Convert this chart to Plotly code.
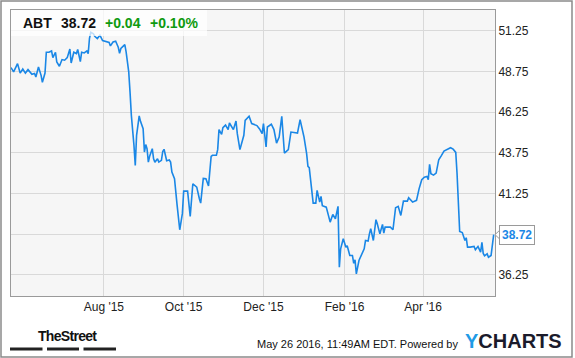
import plotly.graph_objects as go

ticker = "ABT"
last_price = 38.72
change_abs = "+0.04"
change_pct = "+0.10%"
timestamp_text = "May 26 2016, 11:49AM EDT. Powered by"

dates = [
    "2015-05-22", "2015-05-24", "2015-05-27", "2015-05-29", "2015-05-31", "2015-06-02", "2015-06-04",
    "2015-06-07", "2015-06-09", "2015-06-10", "2015-06-12", "2015-06-14", "2015-06-15", "2015-06-17",
    "2015-06-18", "2015-06-20", "2015-06-22", "2015-06-23", "2015-06-25", "2015-06-26", "2015-06-28",
    "2015-06-30", "2015-07-02", "2015-07-04", "2015-07-06", "2015-07-07", "2015-07-09", "2015-07-11",
    "2015-07-12", "2015-07-14", "2015-07-15", "2015-07-17", "2015-07-19", "2015-07-20", "2015-07-21",
    "2015-07-22", "2015-07-24", "2015-07-25", "2015-07-27", "2015-07-29", "2015-07-31", "2015-08-03",
    "2015-08-05", "2015-08-06", "2015-08-08", "2015-08-10", "2015-08-12", "2015-08-13", "2015-08-14",
    "2015-08-16", "2015-08-17", "2015-08-18", "2015-08-20", "2015-08-21", "2015-08-22", "2015-08-24",
    "2015-08-25", "2015-08-26", "2015-08-28", "2015-08-29", "2015-08-31", "2015-09-01", "2015-09-02",
    "2015-09-03", "2015-09-04", "2015-09-05", "2015-09-07", "2015-09-08", "2015-09-09", "2015-09-11",
    "2015-09-12", "2015-09-14", "2015-09-15", "2015-09-16", "2015-09-18", "2015-09-20", "2015-09-21",
    "2015-09-22", "2015-09-24", "2015-09-26", "2015-09-28", "2015-09-30", "2015-10-01", "2015-10-04",
    "2015-10-06", "2015-10-08", "2015-10-11", "2015-10-13", "2015-10-14", "2015-10-16", "2015-10-18",
    "2015-10-20", "2015-10-22", "2015-10-23", "2015-10-26", "2015-10-27", "2015-10-28", "2015-10-30",
    "2015-10-31", "2015-11-02", "2015-11-04", "2015-11-05", "2015-11-08", "2015-11-10", "2015-11-11",
    "2015-11-13", "2015-11-15", "2015-11-16", "2015-11-17", "2015-11-20", "2015-11-22", "2015-11-26",
    "2015-11-28", "2015-11-30", "2015-12-01", "2015-12-03", "2015-12-04", "2015-12-07", "2015-12-09",
    "2015-12-11", "2015-12-13", "2015-12-15", "2015-12-17", "2015-12-20", "2015-12-22", "2015-12-25",
    "2015-12-27", "2015-12-29", "2016-01-01", "2016-01-03", "2016-01-04", "2016-01-05", "2016-01-08",
    "2016-01-10", "2016-01-11", "2016-01-13", "2016-01-14", "2016-01-15", "2016-01-18", "2016-01-21",
    "2016-01-23", "2016-01-25", "2016-01-27", "2016-01-28", "2016-01-29", "2016-01-31", "2016-02-02",
    "2016-02-03", "2016-02-05", "2016-02-07", "2016-02-08", "2016-02-09", "2016-02-10", "2016-02-12",
    "2016-02-14", "2016-02-16", "2016-02-17", "2016-02-19", "2016-02-20", "2016-02-21", "2016-02-23",
    "2016-02-25", "2016-02-26", "2016-02-28", "2016-03-01", "2016-03-02", "2016-03-03", "2016-03-07",
    "2016-03-09", "2016-03-11", "2016-03-13", "2016-03-15", "2016-03-17", "2016-03-20", "2016-03-21",
    "2016-03-23", "2016-03-24", "2016-03-27", "2016-03-28", "2016-03-29", "2016-03-31", "2016-04-02",
    "2016-04-04", "2016-04-05", "2016-04-06", "2016-04-07", "2016-04-09", "2016-04-11", "2016-04-13",
    "2016-04-14", "2016-04-15", "2016-04-17", "2016-04-18", "2016-04-20", "2016-04-22", "2016-04-24",
    "2016-04-26", "2016-04-27", "2016-04-28", "2016-04-29", "2016-05-01", "2016-05-03", "2016-05-04",
    "2016-05-05", "2016-05-07", "2016-05-10", "2016-05-11", "2016-05-13", "2016-05-15", "2016-05-16",
    "2016-05-17", "2016-05-18", "2016-05-20", "2016-05-21", "2016-05-23", "2016-05-25",
]

prices = [
    49.00, 48.73, 49.24, 48.66, 48.91, 48.66, 48.87,
    48.58, 48.63, 48.42, 49.03, 48.52, 48.09, 48.66,
    49.94, 49.94, 50.02, 49.61, 49.94, 49.34, 49.08,
    49.49, 49.45, 49.61, 50.14, 49.28, 49.94, 49.86,
    50.11, 49.37, 49.94, 49.90, 50.02, 49.86, 50.80,
    51.17, 51.08, 50.92, 50.78, 50.99, 50.66, 50.57,
    50.54, 50.33, 50.57, 50.62, 50.25, 49.88, 50.17,
    50.33, 50.41, 49.96, 48.73, 47.49, 46.06, 44.21,
    42.98, 44.83, 46.02, 45.69, 45.24, 43.80, 44.26,
    44.01, 43.18, 43.55, 44.01, 43.39, 43.18, 43.39,
    43.18, 43.29, 43.84, 43.97, 43.27, 43.31, 43.18,
    42.57, 42.16, 40.52, 39.02, 40.01, 41.40, 41.40,
    39.84, 41.85, 41.64, 40.93, 40.66, 42.18, 42.16,
    41.71, 43.53, 43.60, 43.60, 43.95, 45.18, 44.89,
    45.30, 45.46, 45.18, 45.59, 45.18, 45.71, 44.93,
    43.95, 44.52, 44.83, 45.75, 46.00, 45.55, 45.43,
    45.22, 44.93, 45.55, 44.11, 45.34, 45.51, 45.18,
    44.35, 44.72, 46.00, 43.74, 43.95, 45.03, 45.01,
    44.97, 45.79, 44.72, 43.70, 42.92, 42.84, 40.66,
    40.66, 41.44, 40.72, 41.07, 40.50, 40.41, 39.49,
    39.96, 39.70, 40.46, 36.72, 37.85, 38.47, 37.95,
    38.04, 37.44, 37.44, 36.96, 37.17, 36.31, 37.13,
    37.44, 37.85, 38.36, 38.32, 38.77, 39.08, 38.36,
    39.64, 39.39, 38.77, 39.35, 38.81, 39.18, 39.18,
    39.02, 40.38, 40.46, 39.90, 40.78, 40.78, 40.99,
    40.83, 40.72, 40.83, 41.27, 41.55, 42.10, 42.26,
    42.30, 42.10, 43.04, 42.47, 42.38, 42.51, 43.33,
    43.49, 43.58, 43.86, 43.90, 43.95, 44.07, 43.98,
    43.78, 42.47, 40.21, 38.92, 38.85, 38.36, 38.53,
    37.95, 37.95, 37.99, 37.79, 37.99, 37.64, 38.24,
    37.56, 37.42, 37.54, 37.33, 37.44, 38.72,
]

x_tick_vals = ["2015-08-01", "2015-10-01", "2015-12-01", "2016-02-01", "2016-04-01"]
x_tick_text = ["Aug '15", "Oct '15", "Dec '15", "Feb '16", "Apr '16"]
y_tick_vals = [36.25, 38.75, 41.25, 43.75, 46.25, 48.75, 51.25]
# the 38.75 label is hidden behind the last-price callout in the reference
y_tick_text = ["36.25", "", "41.25", "43.75", "46.25", "48.75", "51.25"]

LINE_BLUE = "#1a87e6"
GREEN = "#0f9a0f"
GRID = "#d9d9d9"
BORDER = "#9a9a9a"
FONT = "Liberation Sans, Arial, sans-serif"

fig = go.Figure()
fig.add_trace(go.Scatter(
    x=dates, y=prices, mode="lines",
    line=dict(color=LINE_BLUE, width=1.6),
    hoverinfo="skip", showlegend=False,
))

# plot area: x 11..495 px, y 10..296 px
W, H = 575, 358
L, R, T, B = 11, 80, 10, 62
pw, ph = W - L - R, H - T - B

def px_x(p):
    return (p - L) / pw

def px_y(p):
    return 1 - (p - T) / ph

fig.update_layout(
    width=W, height=H, autosize=False,
    margin=dict(l=L, r=R, t=T, b=B, pad=0),
    paper_bgcolor="white", plot_bgcolor="#f6f6f6",
    font=dict(family=FONT, size=12, color="#333333"),
    xaxis=dict(
        type="date", range=["2015-05-22", "2016-05-26"],
        tickvals=x_tick_vals, ticktext=x_tick_text,
        showgrid=True, gridcolor=GRID, gridwidth=1,
        showline=True, linecolor=BORDER, linewidth=1, mirror=True,
        ticks="", zeroline=False,
        tickfont=dict(family=FONT, size=12, color="#222222"),
    ),
    yaxis=dict(
        side="right", range=[34.945, 52.54],
        tickvals=y_tick_vals, ticktext=y_tick_text,
        showgrid=True, gridcolor=GRID, gridwidth=1,
        showline=True, linecolor=BORDER, linewidth=1, mirror=True,
        ticks="", zeroline=False,
        tickfont=dict(family=FONT, size=12, color="#222222"),
    ),
    shapes=[
        # outer frame
        dict(type="rect", xref="paper", yref="paper",
             x0=px_x(1), x1=px_x(572), y0=px_y(357), y1=px_y(1),
             line=dict(color="#8a8a8a", width=1.5), fillcolor="rgba(0,0,0,0)", layer="below"),
        # header translucent box
        dict(type="rect", xref="paper", yref="paper",
             x0=0, x1=px_x(207), y0=px_y(36), y1=1,
             line=dict(width=0), fillcolor="rgba(255,255,255,0.72)", layer="above"),
        # notch of price callout
        dict(type="path", xref="paper", yref="y",
             path=f"M {px_x(499.5)},{last_price + 0.26} L {px_x(495)},{last_price} L {px_x(499.5)},{last_price - 0.26} Z",
             line=dict(color=BORDER, width=1), fillcolor="white", layer="above"),
        # TheStreet bars
        dict(type="rect", xref="paper", yref="paper",
             x0=px_x(10), x1=px_x(42.5), y0=px_y(350.5), y1=px_y(347.5),
             line=dict(width=0), fillcolor="#222222"),
        dict(type="rect", xref="paper", yref="paper",
             x0=px_x(47), x1=px_x(79), y0=px_y(350.5), y1=px_y(347.5),
             line=dict(width=0), fillcolor="#222222"),
        dict(type="rect", xref="paper", yref="paper",
             x0=px_x(83.5), x1=px_x(116), y0=px_y(350.5), y1=px_y(347.5),
             line=dict(width=0), fillcolor="#222222"),
    ],
    annotations=[
        dict(xref="paper", yref="paper", x=px_x(20.5), y=px_y(23.5), xanchor="left", yanchor="middle",
             text=f"<b>{ticker}</b>", showarrow=False, font=dict(family=FONT, size=14, color="#111111")),
        dict(xref="paper", yref="paper", x=px_x(58.5), y=px_y(23.5), xanchor="left", yanchor="middle",
             text=f"<b>{last_price:.2f}</b>", showarrow=False, font=dict(family=FONT, size=14, color="#111111")),
        dict(xref="paper", yref="paper", x=px_x(102.5), y=px_y(23.5), xanchor="left", yanchor="middle",
             text=f"<b>{change_abs}</b>", showarrow=False, font=dict(family=FONT, size=14, color=GREEN)),
        dict(xref="paper", yref="paper", x=px_x(147.5), y=px_y(23.5), xanchor="left", yanchor="middle",
             text=f"<b>{change_pct}</b>", showarrow=False, font=dict(family=FONT, size=14, color=GREEN)),
        # last price callout
        dict(xref="paper", yref="y", x=px_x(499), y=last_price, xanchor="left", yanchor="middle",
             text=f"<b>{last_price:.2f}</b>", showarrow=False,
             bgcolor="white", bordercolor=BORDER, borderwidth=1, borderpad=2,
             font=dict(family=FONT, size=12, color=LINE_BLUE)),
        # footer
        dict(xref="paper", yref="paper", x=px_x(36), y=px_y(336), xanchor="left", yanchor="middle",
             text="<b><span style='letter-spacing:-0.7px'>TheStreet</span></b>", showarrow=False,
             font=dict(family=FONT, size=14, color="#111111")),
        dict(xref="paper", yref="paper", x=px_x(459.5), y=px_y(344), xanchor="right", yanchor="middle",
             text=timestamp_text, showarrow=False,
             font=dict(family=FONT, size=11, color="#111111")),
        dict(xref="paper", yref="paper", x=px_x(463), y=px_y(341), xanchor="left", yanchor="middle",
             text="<b><span style='color:#1f9be6'>Y</span>CHARTS</b>", showarrow=False,
             font=dict(family=FONT, size=20, color="#1b1b2b")),
    ],
)

fig.write_html(
    "out.html",
    config={"displayModeBar": False},
    post_script="document.body.style.margin='0';document.body.style.overflow='hidden';",
)
